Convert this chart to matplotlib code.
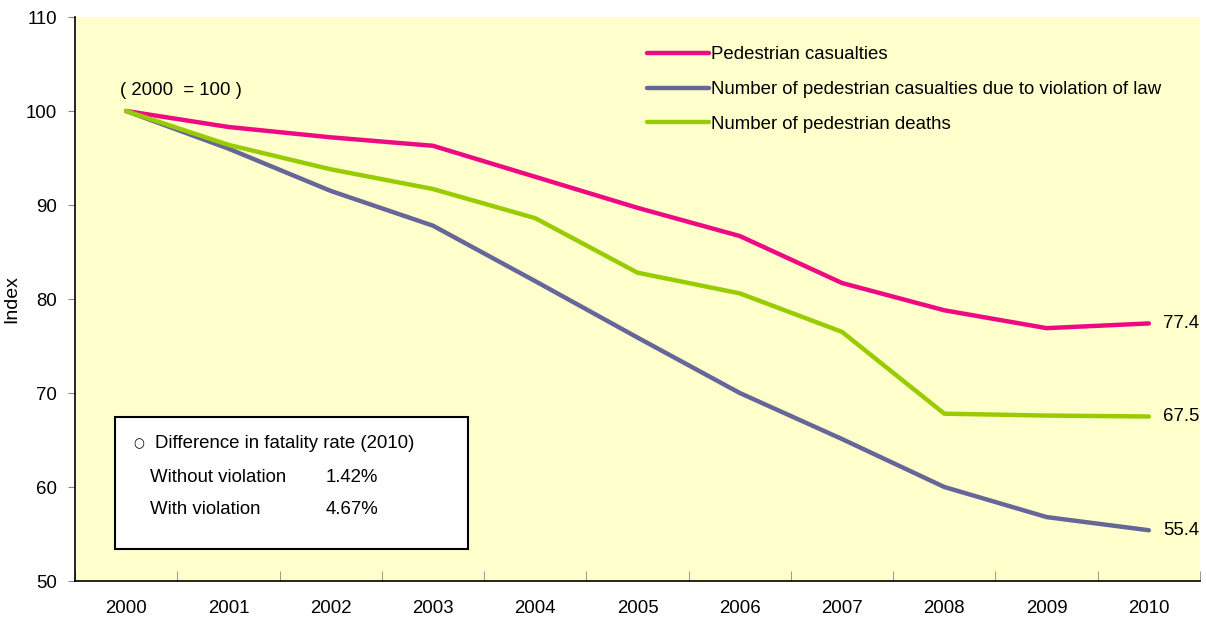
import matplotlib
matplotlib.use("Agg")
import matplotlib.pyplot as plt
from matplotlib.patches import Rectangle

# ================================
# Data (index, 2000 = 100)
# ================================
years = ["2000", "2001", "2002", "2003", "2004", "2005",
         "2006", "2007", "2008", "2009", "2010"]
casualties = [100, 98.3, 97.2, 96.3, 93.0, 89.7, 86.7, 81.7, 78.8, 76.9, 77.4]
violation = [100, 96.0, 91.5, 87.8, 81.9, 75.9, 70.0, 65.1, 60.0, 56.8, 55.4]
deaths = [100, 96.4, 93.8, 91.7, 88.6, 82.8, 80.6, 76.5, 67.8, 67.6, 67.5]

series_names = [
    "Pedestrian casualties",
    "Number of pedestrian casualties due to violation of law",
    "Number of pedestrian deaths",
]
colors = ["#EE0A82", "#666699", "#99CC00"]

box_title = "Difference in fatality rate (2010)"
box_rows = [("Without violation", "1.42%"), ("With violation", "4.67%")]

plt.rcParams["font.family"] = ["Liberation Sans", "DejaVu Sans"]
FS = 13.4

W, H = 1206, 618
fig = plt.figure(figsize=(W / 100, H / 100), dpi=100)
ax = fig.add_axes([75 / W, 1 - 581 / H, 1125 / W, 564 / H])
ax.set_facecolor("#FFFFCC")

x = list(range(len(years)))
for vals, name, c in zip([casualties, violation, deaths], series_names, colors):
    ax.plot(x, vals, color=c, lw=3.2, label=name, solid_capstyle="round",
            solid_joinstyle="round")

# end value labels
for vals in [casualties, violation, deaths]:
    ax.text(x[-1] + 0.14, vals[-1], f"{vals[-1]:.1f}", fontsize=FS,
            va="center", ha="left")

ax.set_xlim(-0.5, len(years) - 0.5)
ax.set_ylim(50, 110)
ax.set_yticks(range(50, 111, 10))
ax.tick_params(axis="y", direction="out", length=5, labelsize=FS, pad=8,
               color="#888888")

ax.set_xticks(x)
ax.set_xticklabels(years, fontsize=FS)
ax.set_xticks([i + 0.5 for i in x[:-1]] + [-0.5, len(years) - 0.5], minor=True)
ax.tick_params(axis="x", which="major", length=0, pad=14)
ax.tick_params(axis="x", which="minor", direction="in", length=7,
               color="#888888")

for s in ["top", "right"]:
    ax.spines[s].set_visible(False)
ax.spines["left"].set_linewidth(1.2)
ax.spines["bottom"].set_linewidth(1.2)

ax.set_ylabel("Index", fontsize=14, labelpad=4)

ax.text(-0.06, 101.3, "( 2000  = 100 )", fontsize=FS, ha="left", va="bottom")

ax.legend(loc="upper left", bbox_to_anchor=((640 - 75) / 1125, 1 - 22 / 564),
          frameon=False, fontsize=FS, handlelength=3.3, handletextpad=0.1,
          labelspacing=0.95, borderaxespad=0)

# summary box
fig.add_artist(Rectangle((115 / W, 1 - 549 / H), 353 / W, 132 / H,
                         transform=fig.transFigure, facecolor="white",
                         edgecolor="black", lw=1.5))
fig.text(139 / W, 1 - 444 / H, "○", fontsize=9, ha="center", va="center",
         family=["DejaVu Sans"])
fig.text(155 / W, 1 - 444 / H, box_title, fontsize=FS, va="center")
for i, (lab, val) in enumerate(box_rows):
    yy = 1 - (477 + 32 * i) / H
    fig.text(150 / W, yy, lab, fontsize=FS, va="center")
    fig.text(326 / W, yy, val, fontsize=FS, va="center")

fig.savefig("out.png", dpi=100)
